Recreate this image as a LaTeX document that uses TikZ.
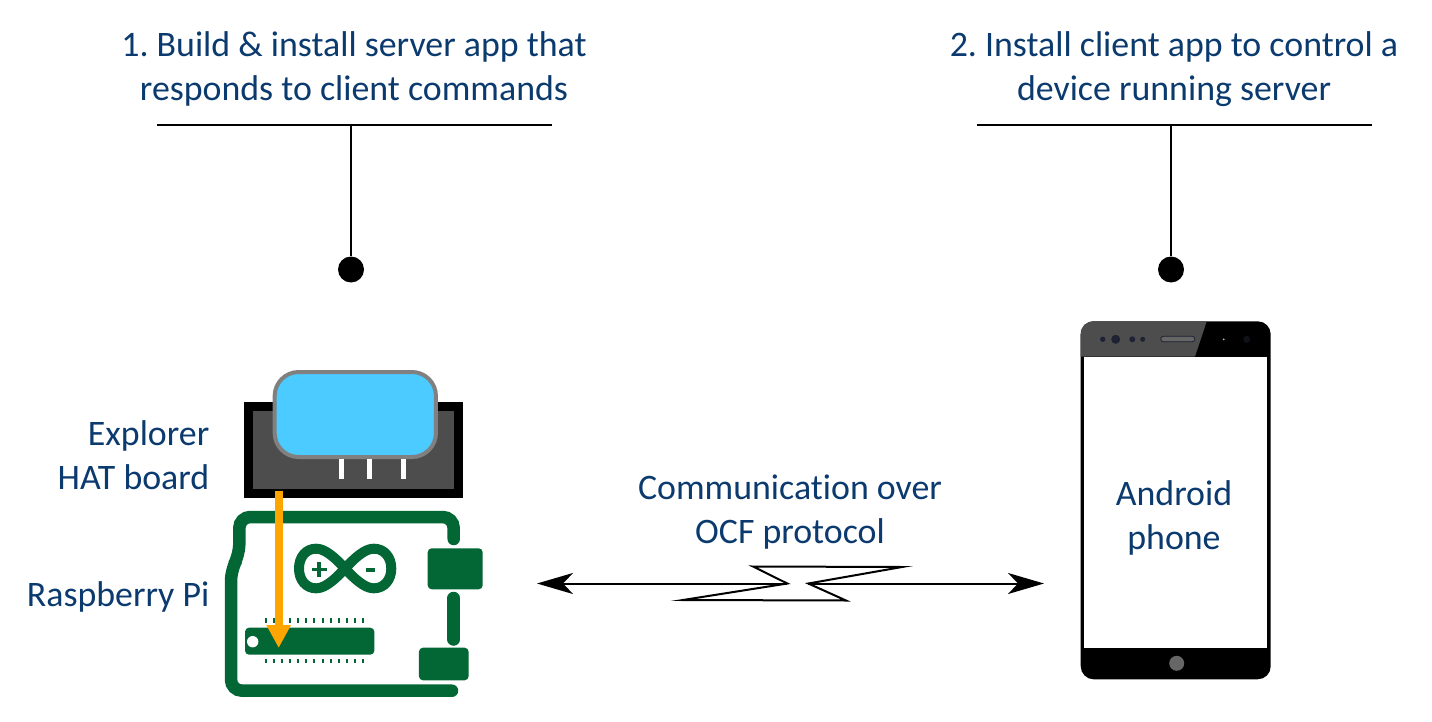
\documentclass[tikz,border=0pt]{standalone}
\usepackage{fontspec}
\setmainfont[Ligatures=NoCommon]{Carlito}
\usetikzlibrary{arrows.meta}
\definecolor{labelblue}{HTML}{0B3A6E}
\definecolor{boardgreen}{HTML}{036635}
\definecolor{hatgray}{HTML}{4D4D4D}
\definecolor{hatblue}{HTML}{4BCBFF}
\definecolor{pinorange}{HTML}{FFA500}
\definecolor{lensdark}{HTML}{1E2233}
\tikzset{
    label text/.style = {text = labelblue, align = center, inner sep = 0pt, font = \fontsize{35.85}{44}\selectfont\frenchspacing},
    side text/.style = {label text, align = right, anchor = east},
    stem dot/.style = {circle, fill = black, minimum width = 26pt, inner sep = 0pt},
    green box/.style = {fill = boardgreen, rounded corners = 4pt, inner sep = 0pt},
    lens/.style = {circle, fill = lensdark, inner sep = 0pt},
    wireless/.style = {line width = 2pt, {Stealth[length = 36pt, width = 21pt, inset = 10pt]}-},
    trace/.style = {draw = boardgreen, line width = 12.5pt, line cap = round}
}
\begin{document}
\begin{tikzpicture}[x = 1pt, y = -1pt]
    \useasboundingbox (0,0) rectangle (1432,722);

    \node[label text] (servertext) at (354,69) {1. Build \& install server app that\\responds to client commands};
    \node[label text] (clienttext) at (1174,69) {2. Install client app to control a\\device running server};
    \coordinate (serverbarl) at (157,125);
    \coordinate (serverbarr) at (552,125);
    \coordinate (serverbarm) at (351,125);
    \coordinate (clientbarl) at (977,125);
    \coordinate (clientbarr) at (1372,125);
    \coordinate (clientbarm) at (1171,125);
    \node[stem dot] (serverdot) at (351,269.5) {};
    \node[stem dot] (clientdot) at (1171,269.5) {};
    \draw[line width = 2pt] (serverbarl) -- (serverbarr);
    \draw[line width = 2pt] (clientbarl) -- (clientbarr);
    \draw[line width = 2pt] (serverbarm) -- (serverdot);
    \draw[line width = 2pt] (clientbarm) -- (clientdot);

    % explorer hat
    \node[draw = black, line width = 9pt, fill = hatgray, inner sep = 0pt, minimum width = 209.7pt, minimum height = 87pt] (hatboard) at (353.7,450) {};
    \node[draw = black!50, line width = 4pt, fill = hatblue, rounded corners = 24pt, inner sep = 0pt, minimum width = 161.3pt, minimum height = 85pt] (hatdisplay) at (355.3,414.5) {};
    \foreach \x in {341.3,369.3,403.3}
        \fill[white] (\x-2.2,459) rectangle (\x+2.2,479);

    % board outline
    \draw[trace, rounded corners = 11pt] (452,690.7) -- (231,690.7) -- (231,570) -- (239.3,555) -- (239.3,517) -- (453.7,517) -- (453.7,539);
    \draw[trace] (453.7,598) -- (453.7,639.5);
    \node[green box, minimum width = 55pt, minimum height = 41pt] (topconn) at (455.2,568.8) {};
    \node[green box, minimum width = 49.7pt, minimum height = 32.6pt] (botconn) at (443.8,664) {};

    % logo
    \draw[boardgreen, line width = 10pt] (345,568.5) .. controls (330,552) and (322,548.7) .. (316,548.7)
        .. controls (306,548.7) and (299,557) .. (299,568.5)
        .. controls (299,580) and (306,588.3) .. (316,588.3)
        .. controls (322,588.3) and (330,585) .. (345,568.5)
        .. controls (360,552) and (368,548.7) .. (374,548.7)
        .. controls (384,548.7) and (391.3,557) .. (391.3,568.5)
        .. controls (391.3,580) and (384,588.3) .. (374,588.3)
        .. controls (368,588.3) and (360,585) .. (345,568.5) -- cycle;
    \fill[boardgreen] (311.5,567.5) rectangle (326.5,571);
    \fill[boardgreen] (317.2,562) rectangle (320.8,576.5);
    \fill[boardgreen] (366.3,568.2) rectangle (375,571.8);

    % chip
    \node[green box, minimum width = 129.3pt, minimum height = 27pt] (chip) at (309.7,641.2) {};
    \fill[white] (252.7,641.7) circle (5.7);
    \foreach \n in {0,...,12} {
        \fill[boardgreen] (265.7+\n*8.13-1,618.3) rectangle (265.7+\n*8.13+1,623.3);
        \fill[boardgreen] (265.7+\n*8.13-1,658.7) rectangle (265.7+\n*8.13+1,663.3);
    }
    \coordinate (flashfrom) at (278.7,490.7);
    \coordinate (flashto) at (278.7,648);
    \draw[pinorange, line width = 8pt, -{Triangle[length = 23pt, width = 23pt]}] (flashfrom) -- (flashto);

    \node[side text] (hatlabel) at (209.5,455) {Explorer\\HAT board};
    \node[side text] (pilabel) at (209.5,597) {Raspberry Pi};

    % link
    \node[label text] (linklabel) at (790,512) {Communication over\\OCF protocol};
    \coordinate (boltl) at (787.3,583.5);
    \coordinate (boltr) at (808.3,583.5);
    \coordinate (pilink) at (537,583.5);
    \coordinate (phonelink) at (1044,583.5);
    \draw[wireless] (pilink) -- (boltl);
    \draw[wireless] (phonelink) -- (boltr);
    \draw[line width = 2pt, miter limit = 20] (boltl) -- (753,566.5) -- (902,567) -- (boltr) -- (846,600.5) -- (683,600) -- cycle;

    % phone
    \node[fill = black, rounded corners = 13pt, inner sep = 0pt, minimum width = 190pt, minimum height = 358pt] (phone) at (1175.7,500.3) {};
    \fill[hatgray] (1080.7,356.7) -- (1080.7,334.3) .. controls (1080.7,326) and (1086,321.3) .. (1094,321.3) -- (1206.7,321.3) -- (1195,356.7) -- cycle;
    \node[fill = white, inner sep = 0pt, minimum width = 183.3pt, minimum height = 291.6pt] (screen) at (1175.7,502.5) {};
    \node[lens, minimum width = 5.4pt] (lensa) at (1102.7,339.3) {};
    \node[lens, minimum width = 9pt] (lensb) at (1115.7,339.3) {};
    \node[lens, minimum width = 6pt] (lensc) at (1132.3,339.3) {};
    \node[lens, minimum width = 5pt] (lensd) at (1142.7,339.3) {};
    \node[fill = black!60, draw = lensdark, line width = 0.8pt, rounded corners = 2.5pt, inner sep = 0pt, minimum width = 34pt, minimum height = 5.4pt] (speaker) at (1177.8,339) {};
    \node[circle, fill = white!70!black, inner sep = 0pt, minimum width = 2pt] (camera) at (1223.7,339.3) {};
    \node[lens, fill = lensdark!50!black, minimum width = 7pt] (sensor) at (1246.7,339.3) {};
    \node[circle, fill = black!60, inner sep = 0pt, minimum width = 15pt] (homekey) at (1176.7,663.3) {};
    \node[label text] (phonelabel) at (1174,518) {Android\\phone};
\end{tikzpicture}
\end{document}
